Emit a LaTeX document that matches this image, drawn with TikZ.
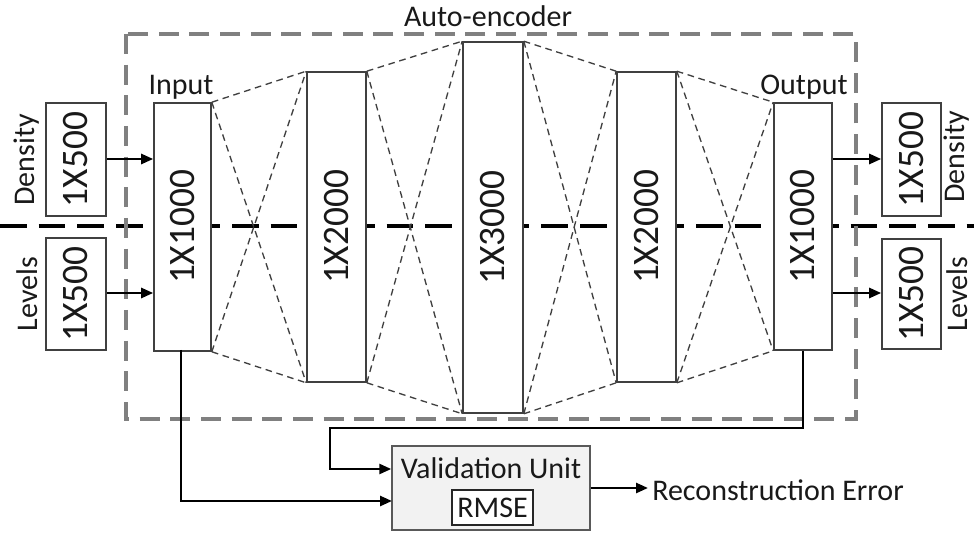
\documentclass[tikz,border=0pt]{standalone}
\usepackage{fontspec}
\setmainfont{Carlito}
\usetikzlibrary{arrows.meta,calc}
\begin{document}
\begin{tikzpicture}[x=0.75pt,y=-0.75pt]
\tikzset{
  unit/.style 2 args={draw=black!75, line width=1.2pt, fill=white, inner sep=0pt,
    minimum width=#1*0.75pt, minimum height=#2*0.75pt},
  vlabel/.style={rotate=90, font=\fontsize{28}{30}\selectfont, text=black!90, inner sep=0pt},
  tag/.style={font=\fontsize{22.5}{26}\selectfont, text=black!90, inner sep=0pt},
  link/.style={draw=black!75, line width=1pt, dash pattern=on 5pt off 3.5pt},
  wire/.style={draw=black, line width=1.9pt},
  tip/.style={-{Triangle[length=9pt,width=7.5pt]}},
  divider/.style={draw=black, line width=2.3pt, dash pattern=on 20pt off 9pt},
  frame/.style={draw=black!50, line width=2.3pt, dash pattern=on 15pt off 8pt},
}
\useasboundingbox (0,0) rectangle (974,534);

% split between the density half and the levels half
\draw[divider] (0,226) -- (974,226);

% network layers
\node[unit={57}{248}] (b1) at (182.5,227) {};
\node[unit={59}{310}] (b2) at (336.5,227) {};
\node[unit={60}{371}] (b3) at (493,227.5) {};
\node[unit={59}{310}] (b4) at (646.5,227) {};
\node[unit={58}{247}] (b5) at (803,226.5) {};
\foreach \b/\t in {b1/1X1000, b2/1X2000, b3/1X3000, b4/1X2000, b5/1X1000}
  \node[vlabel] at (\b.center) {\t};

% input and output vectors
\node[unit={60}{113}] (ind) at (76,159.5) {};
\node[unit={60}{112}] (inl) at (76,294) {};
\node[unit={59}{113}] (outd) at (911.5,159.5) {};
\node[unit={59}{110}] (outl) at (911.5,294) {};
\foreach \b in {ind, inl, outd, outl}
  \node[vlabel] at (\b.center) {1X500};
\node[tag, rotate=90] at (27,160) {Density};
\node[tag, rotate=90] at (27,294) {Levels};
\node[tag, rotate=90] at (957,157) {Density};
\node[tag, rotate=90] at (957,294) {Levels};

% full connections between consecutive layers
\foreach \a/\c in {b1/b2, b2/b3, b3/b4, b4/b5} {
  \draw[link] (\a.north east) -- (\c.north west);
  \draw[link] (\a.south east) -- (\c.south west);
  \draw[link] (\a.north east) -- (\c.south west);
  \draw[link] (\a.south east) -- (\c.north west);
}

% auto-encoder frame
\draw[frame] (126,34) rectangle (856,419);
\node[tag, anchor=base] (ae) at (488,27) {Auto-encoder};
\node[tag, anchor=base] (inlab) at (181,95) {Input};
\node[tag, anchor=base] (outlab) at (804,95) {Output};

% validation unit
\node[draw=black!65, line width=1.1pt, fill=black!5, minimum width=148.5pt, minimum height=63pt, inner sep=0pt] (val) at (491,488) {};
\node[tag, anchor=base] (vtext) at (491,478) {Validation Unit};
\node[draw=black!85, line width=1.1pt, fill=white, minimum width=60.75pt, minimum height=26.25pt, inner sep=0pt] (rmse) at (492.5,507.5) {};
\node[tag, anchor=base] at (492.5,517) {RMSE};
\coordinate (rx) at (648,488);
\node[tag, anchor=base west] (rec) at (652,500) {Reconstruction Error};

% data flow
\draw[wire, tip] (ind.east |- 0,159) -- (b1.west |- 0,159);
\draw[wire, tip] (inl.east |- 0,293) -- (b1.west |- 0,293);
\draw[wire, tip] (b5.east |- 0,159) -- (outd.west |- 0,159);
\draw[wire, tip] (b5.east |- 0,293) -- (outl.west |- 0,293);

\coordinate (up) at (330,469);
\draw[wire, tip] (b5.south) -- (803,428) -- (330,428) -- (up) -- (val.west |- up);
\draw[wire, tip] (181,350) -- (181,501) -- (392,501);
\draw[wire, tip] (val.east) -- (rx);
\end{tikzpicture}
\end{document}
